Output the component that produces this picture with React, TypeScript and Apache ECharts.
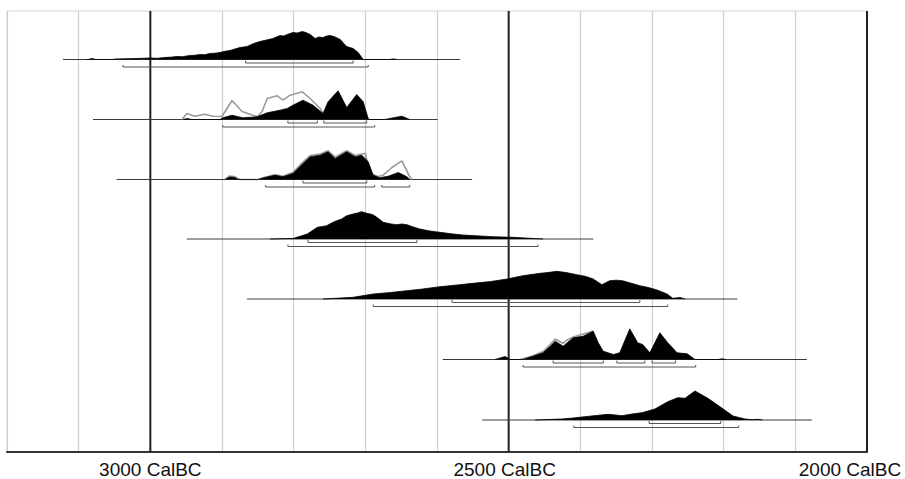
import React, { useEffect, useRef } from "react";
import * as echarts from "echarts";

// Axis (years Cal BC, drawn right-to-left)
const axisMin = 2000;
const axisMax = 3200;
const axisStep = 100;
const labelledYears = [3000, 2500, 2000];
const heavyYears = [3000, 2500, 2000];

// Full calibrated range line of each row [from, to] (Cal BC)
const rangeLines: number[][] = [
  [3122, 2568],
  [3080, 2599],
  [3047, 2551],
  [2949, 2382],
  [2865, 2181],
  [2592, 2084],
  [2537, 2077],
];

// Posterior (black) distributions: [year BC, relative probability]
const row1Post: number[][] = [
  [3090, 0], [3087, 0], [3081, 1], [3076, 0], [3053, 0], [3049, 0.5], [3020, 1], [3000, 1.5],
  [2990, 1.2], [2980, 2], [2970, 2.4], [2963, 3], [2955, 2.8], [2945, 4], [2938, 4.2], [2931, 5],
  [2924, 4.8], [2917, 6], [2910, 6.3], [2903, 7], [2896, 8.2], [2889, 9], [2882, 10.5], [2875, 12],
  [2865, 13], [2856, 16], [2847, 18], [2838, 19.5], [2829, 21], [2819, 24], [2814, 23.5], [2809, 25],
  [2801, 27], [2795, 26.5], [2788, 28], [2783, 27], [2777, 25], [2770, 21], [2765, 22.5], [2759, 22],
  [2754, 23.5], [2749, 24], [2742, 22.5], [2735, 20], [2730, 16], [2726, 13], [2717, 11],
  [2710, 7], [2703, 0], [2666, 0], [2661, 0.6], [2656, 0],
];
const row2Post: number[][] = [
  [2954, 0], [2949, 1], [2942, 0], [2903, 0], [2899, 1.7], [2886, 4.3], [2871, 1.7], [2851, 2.7],
  [2837, 6.7], [2819, 9.3], [2809, 11], [2801, 14.3], [2787, 19.3], [2773, 14.3], [2759, 6],
  [2752, 17.7], [2738, 28.7], [2726, 12], [2712, 25], [2703, 17.7], [2696, 1], [2694, 0],
  [2673, 0], [2659, 2], [2649, 3.3], [2638, 0],
];
const row3Post: number[][] = [
  [2896, 0], [2889, 2.5], [2882, 2], [2878, 0], [2850, 0], [2840, 2], [2826, 4.3], [2815, 2.7],
  [2801, 6], [2787, 16], [2777, 22.7], [2763, 24.3], [2752, 27.7], [2742, 21], [2726, 27.7],
  [2714, 22.7], [2705, 24.3], [2696, 17.7], [2689, 4.3], [2680, 1.7], [2668, 3.3], [2654, 7],
  [2642, 2.7], [2638, 0],
];
const row4Post: number[][] = [
  [2833, 0], [2801, 0.5], [2781, 5], [2767, 11.7], [2760, 12.5], [2754, 13.3], [2747, 16], [2740, 18.3],
  [2733, 20], [2726, 23.3], [2717, 25], [2711, 26], [2705, 27.3], [2698, 25.7], [2690, 24.5],
  [2684, 21.7], [2675, 16.7], [2664, 15], [2656, 14.3], [2649, 15], [2642, 14.3], [2633, 12],
  [2624, 10], [2610, 8], [2596, 6.7], [2580, 5.2], [2564, 4], [2540, 3], [2522, 2.3], [2494, 1.7],
  [2470, 0.7], [2452, 0],
];
const row5Post: number[][] = [
  [2759, 0], [2717, 1.7], [2689, 5], [2665, 6.5], [2642, 8.3], [2620, 10], [2596, 12.3],
  [2572, 14], [2550, 15.7], [2525, 17.5], [2502, 20], [2480, 23.3], [2456, 25.7], [2445, 26.5],
  [2433, 27.7], [2420, 26.5], [2405, 24.3], [2392, 22.5], [2382, 20], [2370, 14.3], [2359, 18.3],
  [2350, 18.8], [2341, 18.3], [2330, 16], [2317, 13.3], [2305, 11.5], [2293, 9], [2279, 5],
  [2271, 0.7], [2261, 1.5], [2254, 0],
];
const row6Post: number[][] = [
  [2519, 0], [2505, 3], [2498, 0], [2480, 0], [2466, 3.3], [2452, 6.7], [2442, 13.3], [2435, 18.3],
  [2424, 13.3], [2410, 21.7], [2396, 23.3], [2382, 28.3], [2375, 16.7], [2368, 8.3], [2354, 5],
  [2345, 6.7], [2331, 30.7], [2320, 16.7], [2313, 15], [2303, 6.7], [2289, 26.7], [2278, 16.7],
  [2265, 6.7], [2251, 5.7], [2240, 0], [2208, 0], [2202, 0.7], [2197, 0],
];
const row7Post: number[][] = [
  [2463, 0], [2426, 1], [2410, 2], [2394, 3.3], [2378, 4.5], [2361, 5.7], [2342, 4.3],
  [2328, 6], [2314, 7.3], [2296, 11], [2278, 18.3], [2264, 22.3], [2254, 21.7], [2240, 29],
  [2222, 21.7], [2202, 11.7], [2187, 4], [2170, 1], [2160, 0.3], [2152, 0.7], [2146, 0],
];

// Unmodelled likelihoods (grey outlines)
const row2Prior: number[][] = [
  [2956, 0], [2949, 6], [2938, 3.3], [2924, 5.3], [2913, 3.3], [2900, 3], [2886, 19], [2872, 8],
  [2857, 4.3], [2850, 3], [2844, 8], [2837, 21], [2823, 23.7], [2815, 19.3], [2805, 24.3],
  [2788, 27.7], [2777, 21], [2763, 11], [2759, 6.5],
];
const row3Prior: number[][] = [
  [2896, 0], [2890, 3.5], [2883, 3], [2875, 0], [2850, 0], [2840, 2.3], [2826, 4.8], [2815, 3.2],
  [2801, 7], [2787, 17.5], [2777, 24], [2763, 25.5], [2752, 28.7], [2742, 22.5], [2726, 28.7],
  [2714, 24], [2705, 25.5], [2700, 26], [2694, 6], [2682, 3], [2675, 4.3], [2663, 12],
  [2649, 18.7], [2638, 2.7], [2635, 0],
];
const row6Prior: number[][] = [
  [2484, 0], [2466, 3.8], [2452, 8], [2442, 15], [2435, 20.5], [2424, 16], [2419, 19.3],
  [2410, 22.5], [2396, 25.5], [2386, 27.5], [2382, 28.5],
];

const posteriors = [row1Post, row2Post, row3Post, row4Post, row5Post, row6Post, row7Post];
const priors: (number[][] | null)[] = [null, row2Prior, row3Prior, null, null, row6Prior, null];

// Highest posterior density ranges [from, to]
const hpd68: number[][][] = [
  [[2867, 2717]],
  [[2808, 2767], [2758, 2698]],
  [[2787, 2698]],
  [[2780, 2628]],
  [[2579, 2317]],
  [[2438, 2368], [2349, 2310], [2300, 2267]],
  [[2304, 2204]],
];
const hpd95: number[][][] = [
  [[3038, 2696]],
  [[2899, 2687]],
  [[2839, 2687], [2677, 2638]],
  [[2808, 2459]],
  [[2689, 2278]],
  [[2480, 2239]],
  [[2409, 2179]],
];

// layout
const W = 905;
const H = 479;
const LEFT = 7;
const RIGHT = 38;
const TOP = 11;
const BOTTOM = 27;
const baselines = [59.5, 119.5, 179.5, 239, 299, 359.5, 420];
const ABOVE = 40;
const BELOW = 12;

export default function App() {
  const ref = useRef<HTMLDivElement>(null);
  useEffect(() => {
    if (!ref.current) return;
    const chart = echarts.init(ref.current, null, { renderer: "svg" });

    const labelFont = {
      fontFamily: "Liberation Sans, Arial, sans-serif",
      fontSize: 19,
      lineHeight: 19,
      color: "#111",
    };
    const grids: any[] = [
      {
        left: LEFT, right: RIGHT, top: TOP, bottom: BOTTOM, show: true,
        borderColor: "#d6d6d6", borderWidth: 1, outerBoundsMode: "none", containLabel: false,
      },
    ];
    const xAxes: any[] = [
      {
        type: "value",
        gridIndex: 0,
        min: axisMin,
        max: axisMax,
        interval: axisStep,
        inverse: true,
        axisLine: { show: true, onZero: false, lineStyle: { color: "#333", width: 2 } },
        axisTick: { show: false },
        splitLine: { show: true, lineStyle: { color: "#cfcfcf", width: 1.2 } },
        showMinLabel: true,
        showMaxLabel: true,
        axisLabel: {
          margin: 8,
          ...labelFont,
          rich: {
            a: { ...labelFont },
            m: { ...labelFont, padding: [0, 8, 0, 0] },
            e: { ...labelFont, padding: [0, 34, 0, 0] },
          },
          formatter: (v: number) => {
            if (labelledYears.indexOf(v) < 0) return "";
            if (v === axisMin) return `{e|${v} CalBC}`;
            if (v === 2500) return `{m|${v} CalBC}`;
            return `{a|${v} CalBC}`;
          },
        },
      },
    ];
    const yAxes: any[] = [{ type: "value", gridIndex: 0, min: 0, max: 1, show: false }];
    const series: any[] = [];

    heavyYears.forEach((yr) => {
      series.push({
        type: "line",
        xAxisIndex: 0,
        yAxisIndex: 0,
        data: [[yr, 0], [yr, 1]],
        showSymbol: false,
        symbol: "none",
        clip: false,
        silent: true,
        z: 2,
        lineStyle: { color: "#222", width: 2 },
      });
    });

    baselines.forEach((b, i) => {
      const gi = i + 1;
      grids.push({ left: LEFT, right: RIGHT, top: b - ABOVE, height: ABOVE + BELOW, outerBoundsMode: "none" });
      xAxes.push({ type: "value", gridIndex: gi, min: axisMin, max: axisMax, inverse: true, show: false });
      yAxes.push({ type: "value", gridIndex: gi, min: -BELOW, max: ABOVE, show: false });

      const r = rangeLines[i];
      series.push({
        type: "line",
        xAxisIndex: gi,
        yAxisIndex: gi,
        data: [[r[0], 0], [r[1], 0]],
        symbol: "none",
        silent: true,
        z: 3,
        lineStyle: { color: "#3a3a3a", width: 1 },
      });

      const pr = priors[i];
      if (pr) {
        series.push({
          type: "line",
          xAxisIndex: gi,
          yAxisIndex: gi,
          data: pr,
          symbol: "none",
          silent: true,
          z: 4,
          lineStyle: { color: "#9a9a9a", width: 1.6 },
        });
      }

      series.push({
        type: "line",
        xAxisIndex: gi,
        yAxisIndex: gi,
        data: posteriors[i],
        symbol: "none",
        silent: true,
        z: 5,
        lineStyle: { color: "#000", width: 0.8 },
        areaStyle: { color: "#000", opacity: 1 },
      });

      const addBracket = (rg: number[], level: number, tickTop: number) => {
        series.push({
          type: "line",
          xAxisIndex: gi,
          yAxisIndex: gi,
          data: [[rg[0], tickTop], [rg[0], level], [rg[1], level], [rg[1], tickTop]],
          symbol: "none",
          silent: true,
          z: 6,
          lineStyle: { color: "#555", width: 1 },
        });
      };
      hpd68[i].forEach((rg) => addBracket(rg, -3.5, -1));
      hpd95[i].forEach((rg) => addBracket(rg, -7.5, -5.5));
    });

    chart.setOption({
      animation: false,
      backgroundColor: "#fff",
      grid: grids,
      xAxis: xAxes,
      yAxis: yAxes,
      series,
    });
    return () => chart.dispose();
  }, []);
  return (
    <div
      ref={ref}
      style={{ position: "absolute", left: 0, top: 0, width: W, height: H }}
    />
  );
}
